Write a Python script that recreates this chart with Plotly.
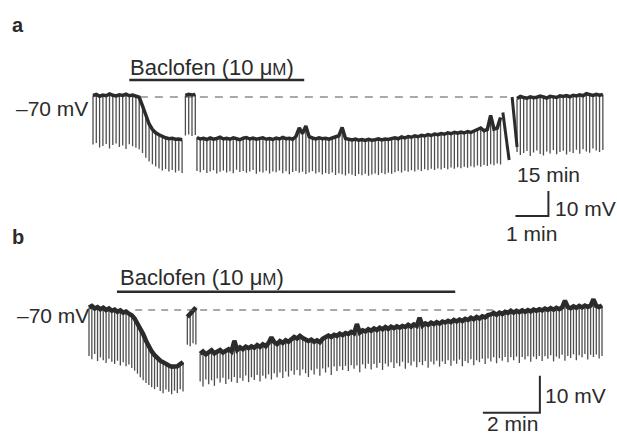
import plotly.graph_objects as go

# ---------------- DATA ----------------
PULSE_INTERVAL_MIN = 0.1          # current pulses every 6 s

# Panel a : membrane potential (mV) at each pulse (rest) and pulse trough (mV)
A1_START = 0.0
A1_REST = [-69.4, -69.0, -69.7, -69.2, -69.5, -68.8, -69.3, -69.6, -69.1, -69.4,
           -68.9, -69.5, -69.2, -69.6, -70.1, -73.5, -77.5, -80.8, -83.0, -84.3,
           -85.1, -85.9, -86.3, -86.7, -86.5, -86.9, -86.8, -87.1]
A1_TROUGH = [-89.0, -88.4, -90.2, -89.6, -88.8, -90.6, -89.2, -88.6, -90.0, -89.4,
             -90.8, -88.9, -89.7, -90.3, -90.9, -92.4, -94.3, -95.8, -96.9, -97.8,
             -98.6, -99.4, -98.8, -99.8, -99.2, -100.2, -99.5, -100.4]
A2_START = 2.8
A2_REST = [-69.4, -68.9, -69.2, -69.0]
A2_TROUGH = [-85.4, -85.0, -85.6, -85.2]
A3_START = 3.15
A3_REST = [-86.2, -86.8, -86.5, -87.0, -86.4, -86.9, -86.6, -86.1, -86.8, -86.5,
           -86.9, -86.3, -86.7, -87.1, -86.5, -86.2, -86.8, -86.4, -86.9, -86.6,
           -86.3, -86.9, -86.6, -87.0, -86.4, -86.8, -86.2, -86.7, -86.5, -86.9,
           -85.8, -82.4, -84.6, -81.6, -85.9, -86.4, -86.8, -86.3, -86.7, -86.5,
           -86.9, -86.4, -86.1, -85.5, -82.2, -86.6, -86.9, -87.2, -86.8, -87.3,
           -87.0, -87.4, -86.9, -87.3, -87.1, -86.7, -87.2, -86.8, -87.0, -86.6,
           -86.3, -86.7, -86.0, -86.4, -85.8, -86.1, -85.5, -85.9, -85.3, -85.6,
           -85.0, -85.4, -84.8, -85.1, -84.6, -84.9, -84.3, -84.7, -84.1, -84.5,
           -84.0, -84.4, -83.8, -84.2, -83.6, -83.2, -82.4, -83.5, -83.0, -77.4,
           -82.8, -82.4, -78.2]
A3_TROUGH = [-99.6, -100.1, -99.2, -100.4, -99.8, -99.3, -100.6, -99.9, -99.4, -100.2,
             -99.7, -100.5, -99.1, -100.0, -99.6, -100.3, -99.8, -99.2, -100.7, -99.9,
             -100.2, -99.5, -100.6, -99.8, -100.1, -99.4, -100.5, -99.7, -100.9, -100.0,
             -99.6, -100.3, -99.9, -100.8, -100.2, -99.7, -100.6, -100.1, -101.0, -100.4,
             -100.8, -100.2, -101.2, -100.5, -100.9, -101.4, -100.6, -101.1, -101.6, -100.8,
             -101.3, -100.7, -101.5, -101.0, -100.6, -101.2, -100.4, -100.9, -100.3, -100.7,
             -100.1, -99.6, -100.2, -99.5, -99.9, -99.3, -99.8, -99.1, -99.6, -98.9,
             -99.3, -98.7, -99.2, -98.6, -99.0, -98.4, -98.9, -98.2, -98.7, -98.1,
             -98.5, -97.9, -98.3, -97.7, -98.1, -97.4, -97.9, -97.2, -97.6, -96.9,
             -97.3, -96.6, -97.0]
A4_START = 12.85                   # displayed after the 15 min break
A4_REST = [-70.6, -69.8, -70.2, -70.5, -69.9, -70.3, -70.1, -69.6, -70.0, -70.4,
           -69.7, -69.9, -70.2, -69.5, -69.8, -69.4, -69.9, -69.3, -69.6, -69.1,
           -69.5, -68.7, -69.2, -69.4, -68.9, -69.3, -69.0]
A4_TROUGH = [-92.0, -93.2, -92.4, -91.6, -93.6, -92.2, -91.4, -92.8, -93.4, -91.8,
             -92.6, -91.2, -92.9, -92.0, -91.5, -93.0, -91.9, -92.4, -91.1, -92.7,
             -90.9, -91.8, -92.3, -90.6, -91.4, -92.0, -91.2]
A_BACLOFEN_MIN = [1.1, 6.4]

# Panel b
B1_START = 0.0
B1_REST = [-69.3, -68.9, -69.6, -69.2, -69.8, -69.4, -70.0, -69.6, -70.2, -69.9,
           -70.5, -70.1, -70.7, -70.4, -71.0, -71.4, -72.3, -73.6, -75.0, -76.5,
           -78.3, -79.9, -81.2, -82.2, -83.1, -83.7, -84.1, -84.7, -85.0, -85.3,
           -85.1, -85.2, -84.6, -84.1]
B1_TROUGH = [-82.4, -83.3, -81.9, -83.8, -82.8, -83.6, -84.3, -83.2, -84.0, -84.6,
             -83.7, -85.0, -84.1, -85.2, -84.7, -85.7, -86.4, -87.2, -88.2, -89.0,
             -89.7, -90.3, -90.9, -91.4, -90.8, -91.9, -92.5, -91.5, -92.1, -92.8,
             -91.8, -92.4, -91.4, -92.0]
B2_START = 3.45
B2_REST = [-71.9, -71.0, -70.0, -69.3]
B2_TROUGH = [-79.4, -79.8, -79.0, -79.3]
B3_START = 3.9
B3_REST = [-81.8, -81.2, -82.0, -81.4, -80.9, -81.7, -81.3, -80.8, -81.5, -81.1,
           -80.6, -81.2, -78.3, -80.8, -80.1, -80.6, -79.9, -80.3, -79.8, -80.2,
           -79.5, -80.0, -79.3, -79.8, -78.9, -77.4, -78.7, -79.2, -78.4, -78.9,
           -78.2, -78.6, -77.8, -77.3, -77.7, -77.0, -77.6, -78.1, -78.4, -78.0,
           -78.6, -78.2, -78.7, -77.8, -77.4, -76.9, -77.3, -76.7, -77.0, -76.4,
           -76.8, -76.2, -76.5, -75.9, -76.3, -73.8, -76.1, -75.5, -75.8, -75.2,
           -75.6, -75.0, -75.4, -74.8, -75.2, -74.6, -75.1, -74.5, -74.9, -74.4,
           -74.8, -74.3, -74.6, -74.0, -74.5, -73.9, -74.3, -72.1, -74.2, -73.6,
           -74.0, -73.4, -73.8, -73.3, -73.7, -73.1, -73.4, -72.9, -73.3, -72.7,
           -73.1, -72.6, -73.0, -72.4, -72.7, -72.1, -72.5, -71.9, -72.3, -71.7,
           -72.0, -71.4, -71.2, -70.8, -71.3, -70.7, -71.1, -70.5, -70.8, -70.2,
           -70.7, -70.2, -70.6, -70.1, -70.5, -70.0, -70.4, -69.9, -70.2, -69.8,
           -70.1, -69.6, -70.0, -69.5, -69.9, -69.4, -69.8, -69.3, -67.5, -69.2,
           -69.5, -69.0, -69.4, -68.9, -69.3, -68.8, -69.2, -68.8, -67.1, -68.9,
           -69.2, -68.8]
B3_TROUGH = [-89.3, -90.7, -88.8, -90.1, -89.0, -90.5, -88.5, -89.6, -88.3, -90.0,
             -88.7, -89.4, -88.1, -89.7, -88.4, -89.1, -87.7, -89.5, -88.2, -88.9,
             -87.6, -89.3, -87.8, -88.5, -87.4, -88.8, -87.1, -88.2, -86.9, -88.4,
             -86.6, -88.0, -86.4, -87.5, -86.2, -87.7, -86.1, -87.1, -88.1, -86.3,
             -87.4, -85.9, -87.8, -85.8, -86.9, -85.5, -87.6, -85.3, -86.5, -85.2,
             -86.2, -85.1, -86.5, -84.9, -85.9, -85.0, -86.8, -84.7, -85.8, -84.5,
             -86.1, -84.6, -85.6, -84.3, -86.2, -84.5, -85.3, -84.1, -85.7, -84.4,
             -85.2, -84.0, -85.9, -84.3, -85.0, -83.9, -85.5, -84.1, -84.9, -83.8,
             -85.6, -84.0, -84.7, -83.7, -85.3, -83.9, -84.6, -83.6, -85.1, -83.7,
             -84.5, -83.4, -85.2, -83.8, -84.3, -83.3, -84.9, -83.6, -84.1, -83.2,
             -84.6, -83.1, -83.9, -82.8, -84.4, -83.0, -83.7, -82.7, -84.1, -82.8,
             -83.6, -82.6, -84.3, -82.7, -83.4, -82.5, -84.0, -82.6, -83.3, -82.4,
             -83.8, -82.5, -83.2, -82.2, -83.9, -82.6, -83.1, -82.1, -83.7, -82.4,
             -83.0, -82.0, -83.6, -82.2, -82.8, -81.9, -83.4, -82.1, -82.7, -82.0,
             -83.1, -82.4]
B_BACLOFEN_MIN = [0.98, 12.85]

REFERENCE_MV = -70
SCALE_A = (1, 10)   # min, mV
SCALE_B = (2, 10)

# ---------------- LAYOUT CONSTANTS ----------------
W, H = 617, 436
FONT = "Liberation Sans, Arial, sans-serif"
INK = "#2b2b2b"
PULSE = "#4e4e4e"

# pixel mapping of each panel (used only to set axis ranges)
A_X0, A_PPM, A_Y70, A_PPV = 93, 33.0, 97, 2.5
B_X0, B_PPM, B_Y70, B_PPV = 89, 28.5, 310, 3.7
SPLIT = 245  # pixel row between the two panels

def xr(x0, ppm):
    return [(0 - x0) / ppm, (W - x0) / ppm]

def yr(y70, ppv, top, bot):
    return [REFERENCE_MV - (bot - y70) / ppv, REFERENCE_MV - (top - y70) / ppv]

fig = go.Figure()

def add_segment(start, rest, trough, xa, ya, bw):
    ts = [start + i * PULSE_INTERVAL_MIN for i in range(len(rest))]
    px, py = [], []
    for t, r, tr in zip(ts, rest, trough):
        px += [t, t, None]
        py += [r, tr, None]
    fig.add_trace(go.Scatter(x=px, y=py, mode="lines", xaxis=xa, yaxis=ya,
                             line=dict(color=PULSE, width=1.3), hoverinfo="skip",
                             showlegend=False))
    fig.add_trace(go.Scatter(x=ts, y=rest, mode="lines", xaxis=xa, yaxis=ya,
                             line=dict(color=INK, width=bw), hoverinfo="skip",
                             showlegend=False))

for s, r, tr in [(A1_START, A1_REST, A1_TROUGH), (A2_START, A2_REST, A2_TROUGH),
                 (A3_START, A3_REST, A3_TROUGH), (A4_START, A4_REST, A4_TROUGH)]:
    add_segment(s, r, tr, "x", "y", 3.5)
for s, r, tr in [(B1_START, B1_REST, B1_TROUGH), (B2_START, B2_REST, B2_TROUGH),
                 (B3_START, B3_REST, B3_TROUGH)]:
    add_segment(s, r, tr, "x2", "y2", 4.5)

def line(x, y, xa, ya, width, color=INK, dash=None):
    fig.add_trace(go.Scatter(x=x, y=y, mode="lines", xaxis=xa, yaxis=ya,
                             line=dict(color=color, width=width, dash=dash),
                             hoverinfo="skip", showlegend=False))

# break marks in panel a (end of first record / start after 15 min)
a3_end = A3_START + (len(A3_REST) - 1) * PULSE_INTERVAL_MIN
line([a3_end + 0.07, a3_end + 0.26], [A3_REST[-1] + 2, -95.2], "x", "y", 3)
line([A4_START - 0.15, A4_START], [REFERENCE_MV, -90], "x", "y", 3)

# dashed -70 mV reference lines
line([1.42, a3_end + 0.2], [REFERENCE_MV] * 2, "x", "y", 1.2, "#555", "8px,7px")
line([1.62, 14.2], [REFERENCE_MV] * 2, "x2", "y2", 1.2, "#555", "7px,6px")

# baclofen application bars
line(A_BACLOFEN_MIN, [-63.2] * 2, "x", "y", 2.5)
line(B_BACLOFEN_MIN, [-65.1] * 2, "x2", "y2", 2.5)

# scale bars
ca = (13.8, -117.6)
line([ca[0] - SCALE_A[0], ca[0], ca[0]], [ca[1], ca[1], ca[1] + SCALE_A[1]], "x", "y", 2)
cb = (15.82, -97.8)
line([cb[0] - SCALE_B[0], cb[0], cb[0]], [cb[1], cb[1], cb[1] + SCALE_B[1]], "x2", "y2", 2)

def ann(text, x, y, xref, yref, xanchor="left", size=21, bold=False, yanchor="middle"):
    fig.add_annotation(text=f"<b>{text}</b>" if bold else text, x=x, y=y,
                       xref=xref, yref=yref, xanchor=xanchor, yanchor=yanchor,
                       showarrow=False, borderpad=0,
                       font=dict(family=FONT, size=size, color=INK))

mu = "Baclofen (10 μ<span style='font-size:17px'>M</span>)"
ann(mu, 1.08, -58.0, "x", "y", size=22)
ann("–70 mV", -0.12, -74.4, "x", "y", xanchor="right")
ann("15 min", 12.82, -100.8, "x", "y")
ann("10 mV", 13.96, -114.4, "x", "y")
ann("1 min", 12.48, -124.4, "x", "y")
ann(mu, 1.05, -61.1, "x2", "y2", size=22)
ann("–70 mV", 0.05, -71.6, "x2", "y2", xanchor="right")
ann("10 mV", 15.95, -93.0, "x2", "y2")
ann("2 min", 13.92, 0.0, "x2", "paper", yanchor="bottom")
ann("a", 11 / W, 1 - 25 / H, "paper", "paper", size=20, bold=True)
ann("b", 11 / W, 1 - 237 / H, "paper", "paper", size=20, bold=True)

ax = dict(visible=False, showgrid=False, zeroline=False, fixedrange=True)
fig.update_layout(
    width=W, height=H, margin=dict(l=0, r=0, t=0, b=0),
    paper_bgcolor="white", plot_bgcolor="rgba(0,0,0,0)",
    xaxis=dict(ax, domain=[0, 1], range=xr(A_X0, A_PPM), anchor="y"),
    yaxis=dict(ax, domain=[(H - SPLIT) / H, 1], range=yr(A_Y70, A_PPV, 0, SPLIT), anchor="x"),
    xaxis2=dict(ax, domain=[0, 1], range=xr(B_X0, B_PPM), anchor="y2"),
    yaxis2=dict(ax, domain=[0, (H - SPLIT) / H], range=yr(B_Y70, B_PPV, SPLIT, H), anchor="x2"),
    showlegend=False,
)
fig.write_html("out.html", config={"displayModeBar": False},
               post_script="document.body.style.margin='0';document.body.style.overflow='hidden';")
